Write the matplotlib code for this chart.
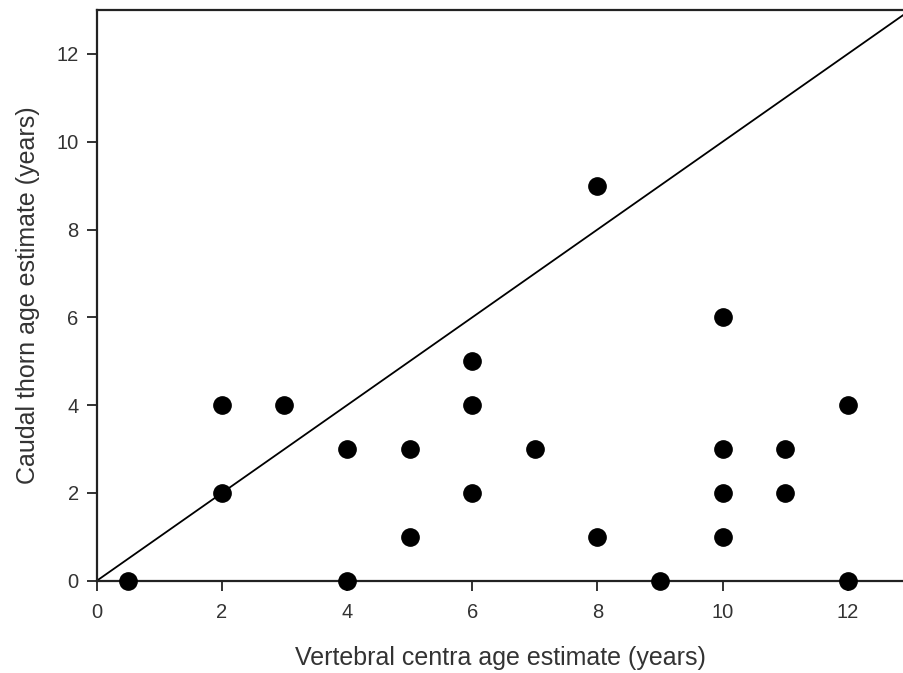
import matplotlib
matplotlib.use("Agg")
import matplotlib.pyplot as plt

# Alder fra ryggvirvler (x) og fra halepigg (y)
vertebral = [0.5, 2, 2, 3, 4, 4, 5, 5, 6, 6, 6, 7, 8, 8, 9, 10, 10, 10, 10, 11, 11, 12, 12]
thorn = [0, 4, 2, 4, 3, 0, 3, 1, 5, 4, 2, 3, 9, 1, 0, 6, 3, 2, 1, 3, 2, 4, 0]
ticks = [0, 2, 4, 6, 8, 10, 12]

plt.rcParams["font.family"] = ["Liberation Sans", "DejaVu Sans"]

fig = plt.figure(figsize=(9.04, 6.73), dpi=100)
ax = fig.add_axes([0.107, 0.137, 0.893, 0.848])

# 1:1-linje
ax.plot([0, 13], [0, 13], color="black", lw=1.3, zorder=2)
ax.scatter(vertebral, thorn, s=155, color="black", zorder=3, clip_on=False)

ax.set_xlim(0, 12.9)
ax.set_ylim(0, 13)
ax.set_xticks(ticks)
ax.set_yticks(ticks)
ax.tick_params(direction="out", length=7, width=1.3, labelsize=14.5,
               colors="#222222", labelcolor="#333333")
ax.tick_params(axis="x", pad=9)
ax.tick_params(axis="y", pad=6)
for side in ("left", "bottom", "top"):
    ax.spines[side].set_linewidth(1.6)
    ax.spines[side].set_color("#222222")
ax.spines["right"].set_visible(False)

ax.set_xlabel("Vertebral centra age estimate (years)", fontsize=18, labelpad=17,
              color="#333333")
ax.set_ylabel("Caudal thorn age estimate (years)", fontsize=18, labelpad=12,
              color="#333333")

fig.savefig("out.png", dpi=100)
